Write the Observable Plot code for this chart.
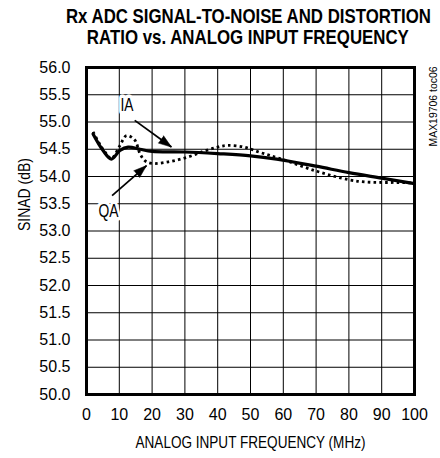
<!DOCTYPE html>
<html>
<head>
<meta charset="utf-8">
<script src="https://cdn.jsdelivr.net/npm/d3@7"></script>
<script src="https://cdn.jsdelivr.net/npm/@observablehq/plot@0.6"></script>
<style>
  html, body { margin: 0; padding: 0; background: #fff; overflow: hidden; }
  #wrap { width: 440px; overflow: hidden; }
  #title {
    width: 600px; margin-left: -52px; height: 56px; box-sizing: border-box; padding-top: 6px;
    font-family: "Liberation Sans", Arial, sans-serif;
    font-weight: bold; font-size: 20.4px; line-height: 21px; text-align: center; color: #000;
    white-space: nowrap;
  }
  #title span { display: inline-block; transform-origin: 50% 50%; }
  svg { display: block; }
</style>
</head>
<body>
<div id="wrap">
  <div id="title"><span id="t1">Rx ADC SIGNAL-TO-NOISE AND DISTORTION</span><br><span id="t2">RATIO vs. ANALOG INPUT FREQUENCY</span></div>
  <div id="chart"></div>
</div>
<script>
// ---- data ----
const iaFreq  = [2, 5, 7.6, 10.2, 12.7, 16.3, 20, 30, 40, 50, 58, 70, 80, 90, 100];
const iaSinad = [54.78, 54.48, 54.32, 54.48, 54.54, 54.50, 54.46, 54.45, 54.42, 54.38, 54.32, 54.19, 54.07, 53.97, 53.87];

const qaFreq  = [2, 4, 6, 7.6, 10.2, 12.2, 14.7, 16.3, 17.8, 19.8, 25, 30.5, 35.6, 40, 43, 48, 53, 59, 70, 80, 85, 90, 95, 100];
const qaSinad = [54.82, 54.6, 54.42, 54.33, 54.57, 54.75, 54.67, 54.42, 54.29, 54.24, 54.27, 54.35, 54.46, 54.54, 54.57, 54.54, 54.44, 54.33, 54.1, 53.94, 53.9, 53.89, 53.89, 53.88];

const xTicks = [0, 10, 20, 30, 40, 50, 60, 70, 80, 90, 100];
const yTicks = [50, 50.5, 51, 51.5, 52, 52.5, 53, 53.5, 54, 54.5, 55, 55.5, 56];

const seriesLabels = ["IA", "QA"];
const labelPos = [[12.35, 55.30], [6.7, 53.37]];
const arrowTail = [[14.7, 55.03], [7.8, 53.65]];
const arrowTip  = [[25.9, 54.54], [18.3, 54.20]];

const xLabel = "ANALOG INPUT FREQUENCY (MHz)";
const yLabel = "SINAD (dB)";
const figId = "MAX19706 toc06";

// ---- build ----
const W = 440, H = 402, mt = 11, mb = 64, ml = 86, mr = 26;
const xDomain = [0, 100], yDomain = [50, 56];
const kx = (W - ml - mr) / (xDomain[1] - xDomain[0]), ky = (H - mt - mb) / (yDomain[1] - yDomain[0]);

const ia = iaFreq.map((f, i) => ({f, s: iaSinad[i]}));
const qa = qaFreq.map((f, i) => ({f, s: qaSinad[i]}));
const labels = seriesLabels.map((t, i) => ({t, x: labelPos[i][0], y: labelPos[i][1]}));
const arrows = seriesLabels.map((t, i) => {
  const [x1, y1] = arrowTail[i], [x2, y2] = arrowTip[i];
  const dx = (x2 - x1) * kx, dy = -(y2 - y1) * ky;
  return {x1, y1, x2, y2, angle: Math.atan2(dx, -dy) * 180 / Math.PI};
});

const font = "'Liberation Sans', Arial, sans-serif";

const plot = Plot.plot({
  width: W, height: H,
  marginTop: mt, marginBottom: mb, marginLeft: ml, marginRight: mr,
  style: {fontFamily: font, fontSize: "16px", color: "#000", background: "#fff"},
  x: {domain: xDomain},
  y: {domain: yDomain},
  marks: [
    Plot.axisX({ticks: xTicks, tickSize: 0, tickPadding: 14, label: null, fontSize: 16}),
    Plot.axisY({ticks: yTicks, tickSize: 0, tickPadding: 16, label: null, tickFormat: d => d.toFixed(1), fontSize: 16}),
    Plot.ruleX(xTicks, {stroke: "#000", strokeWidth: 1}),
    Plot.ruleY(yTicks, {stroke: "#000", strokeWidth: 1}),
    Plot.line(qa, {x: "f", y: "s", curve: "catmull-rom", stroke: "#000", strokeWidth: 2.8, strokeDasharray: "2.6,3.2", strokeLinecap: "butt"}),
    Plot.line(ia, {x: "f", y: "s", curve: "catmull-rom", stroke: "#000", strokeWidth: 3.2}),
    Plot.text(labels, {x: "x", y: "y", text: "t", fontSize: 18, fill: "#000", stroke: "#fff", strokeWidth: 7, paintOrder: "stroke"}),
    Plot.link(arrows, {x1: "x1", y1: "y1", x2: "x2", y2: "y2", stroke: "#000", strokeWidth: 1.8}),
    Plot.vector(arrows, {x: "x2", y: "y2", rotate: "angle", length: 13, r: 4.5, shape: "spike", anchor: "end", fill: "#000", stroke: "#000", strokeWidth: 0.5}),
    Plot.frame({stroke: "#000", strokeWidth: 3}),
    Plot.text([xLabel], {frameAnchor: "bottom", text: d => d, dy: 53, lineAnchor: "bottom", fontSize: 16.5, fill: "#000"}),
    Plot.text([yLabel], {frameAnchor: "left", text: d => d, rotate: -90, dx: -61.5, fontSize: 16.5, fill: "#000"}),
    Plot.text([figId], {frameAnchor: "top-right", text: d => d, rotate: -90, textAnchor: "end", dx: 15, dy: -1, fontSize: 11, fill: "#000"})
  ]
});
document.getElementById("chart").appendChild(plot);

// condense texts to the widths of the reference's narrow typeface
const targetLen = {"IA": 13, "QA": 20, [xLabel]: 230, [yLabel]: 73, [figId]: 80};
d3.select(plot).selectAll("text").each(function() {
  const t = this.textContent;
  if (targetLen[t] && this.querySelector("tspan") == null) {
    this.setAttribute("textLength", targetLen[t]);
    this.setAttribute("lengthAdjust", "spacingAndGlyphs");
  }
});
// title lines
[["t1", 365], ["t2", 322]].forEach(([id, w]) => {
  const el = document.getElementById(id);
  const k = w / el.getBoundingClientRect().width;
  el.style.transform = `scaleX(${k})`;
});
</script>
</body>
</html>
